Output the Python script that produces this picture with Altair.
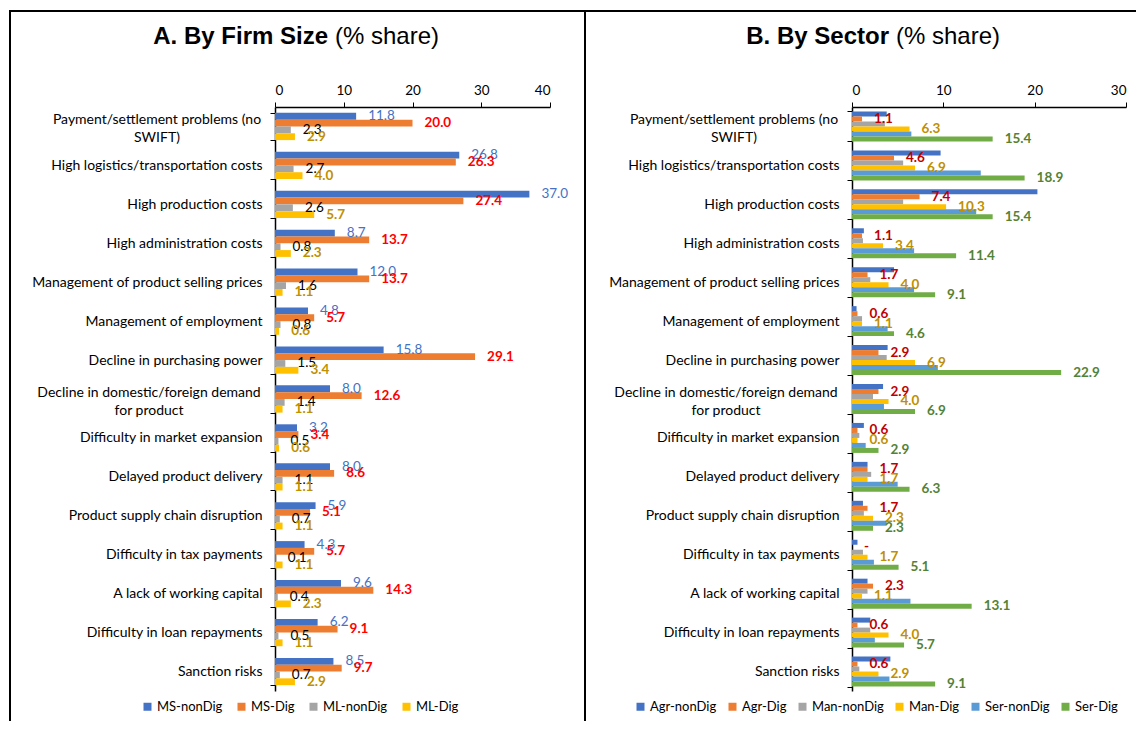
import altair as alt
import pandas as pd

categories = [
    "Payment/settlement problems (no|SWIFT)",
    "High logistics/transportation costs",
    "High production costs",
    "High administration costs",
    "Management of product selling prices",
    "Management of employment",
    "Decline in purchasing power",
    "Decline in domestic/foreign demand|for product",
    "Difficulty in market expansion",
    "Delayed product delivery",
    "Product supply chain disruption",
    "Difficulty in tax payments",
    "A lack of working capital",
    "Difficulty in loan repayments",
    "Sanction risks",
]

size_series = ["MS-nonDig", "MS-Dig", "ML-nonDig", "ML-Dig"]
ms_nondig = [11.8, 26.8, 37.0, 8.7, 12.0, 4.8, 15.8, 8.0, 3.2, 8.0, 5.9, 4.3, 9.6, 6.2, 8.5]
ms_dig = [20.0, 26.3, 27.4, 13.7, 13.7, 5.7, 29.1, 12.6, 3.4, 8.6, 5.1, 5.7, 14.3, 9.1, 9.7]
ml_nondig = [2.3, 2.7, 2.6, 0.8, 1.6, 0.8, 1.5, 1.4, 0.5, 1.1, 0.7, 0.1, 0.4, 0.5, 0.7]
ml_dig = [2.9, 4.0, 5.7, 2.3, 1.1, 0.6, 3.4, 1.1, 0.6, 1.1, 1.1, 1.1, 2.3, 1.1, 2.9]

sector_series = ["Agr-nonDig", "Agr-Dig", "Man-nonDig", "Man-Dig", "Ser-nonDig", "Ser-Dig"]
agr_nondig = [3.8, 9.7, 20.3, 1.3, 4.6, 0.5, 3.9, 3.4, 1.3, 1.7, 1.2, 0.6, 1.7, 2.0, 4.2]
agr_dig = [1.1, 4.6, 7.4, 1.1, 1.7, 0.6, 2.9, 2.9, 0.6, 1.7, 1.7, 0.0, 2.3, 0.6, 0.6]
man_nondig = [3.6, 5.6, 5.6, 1.2, 2.0, 1.1, 3.8, 2.3, 0.8, 2.1, 1.3, 1.2, 1.7, 2.0, 0.8]
man_dig = [6.3, 6.9, 10.3, 3.4, 4.0, 1.1, 6.9, 4.0, 0.6, 1.7, 2.3, 1.7, 1.1, 4.0, 2.9]
ser_nondig = [6.5, 14.1, 13.6, 6.8, 6.8, 3.9, 9.4, 3.5, 1.5, 5.0, 3.8, 2.4, 6.4, 2.5, 4.1]
ser_dig = [15.4, 18.9, 15.4, 11.4, 9.1, 4.6, 22.9, 6.9, 2.9, 6.3, 2.3, 5.1, 13.1, 5.7, 9.1]

size_colors = ["#4472C4", "#ED7D31", "#A5A5A5", "#FFC000"]
sector_colors = ["#4472C4", "#ED7D31", "#A5A5A5", "#FFC000", "#5B9BD5", "#70AD47"]

size_labels = [("MS-nonDig", "#4472C4", "normal"), ("MS-Dig", "#FF0000", "bold"),
               ("ML-nonDig", "#000000", "normal"), ("ML-Dig", "#BF9000", "bold")]
sector_labels = [("Agr-Dig", "#C00000", "bold"), ("Man-Dig", "#BF9000", "bold"),
                 ("Ser-Dig", "#548235", "bold")]

FONT = "Lato, Liberation Sans, Arial"
TFONT = "Liberation Sans, Arial"
W_A, W_B, H = 275, 274, 584
CAT_FS = 14


def build_df(series, lists):
    rows = []
    for s, vals in zip(series, lists):
        for c, v in zip(categories, vals):
            rows.append({"cat": c, "series": s, "value": v,
                         "label": f"{v:.1f}" if v > 0 else "-"})
    return pd.DataFrame(rows)


one = pd.DataFrame({"k": [0]})
wrapped = [c for c in categories if "|" in c]
wrap_x = {wrapped[0]: -118, wrapped[1]: -126}


def panel(df, series, colors, xmax, pad_inner, label_styles, legend_x, col_pad,
          t_bold, t_rest, t_x, rules):
    y_enc = alt.Y(
        "cat:N",
        scale=alt.Scale(domain=categories, paddingInner=pad_inner, paddingOuter=pad_inner / 2),
        axis=alt.Axis(
            title=None, orient="left",
            labelExpr="indexof(datum.label, '|') >= 0 ? '' : datum.label",
            labelFont=FONT, labelFontSize=CAT_FS, labelColor="#000000", labelLimit=400,
            labelPadding=8, tickBand="extent", tickSize=5,
            tickColor="#000000", domainColor="#000000", domainWidth=1.5, grid=False,
        ),
    )
    x_enc = alt.X(
        "value:Q",
        scale=alt.Scale(domain=[0, xmax], nice=False),
        axis=alt.Axis(title=None, orient="top", values=list(range(0, xmax + 1, 10)),
                      grid=False, tickSize=5, tickColor="#000000", domainColor="#000000",
                      domainWidth=1.5, labelFont=FONT, labelFontSize=13.5,
                      labelColor="#000000", labelPadding=5, format="d"),
    )
    yo = alt.YOffset("series:N", scale=alt.Scale(domain=series))
    color = alt.Color(
        "series:N",
        scale=alt.Scale(domain=series, range=colors),
        legend=alt.Legend(title=None, orient="none", legendX=legend_x, legendY=593,
                          direction="horizontal", columns=len(series), symbolType="square",
                          symbolSize=64, symbolStrokeWidth=0, labelFont=FONT,
                          labelFontSize=13, labelColor="#000000", columnPadding=col_pad,
                          labelOffset=3, padding=0),
    )
    bars = alt.Chart(df).mark_bar().encode(x=x_enc, y=y_enc, yOffset=yo, color=color)
    layers = [bars]
    for s, col, w in label_styles:
        layers.append(
            alt.Chart(df).transform_filter(alt.datum.series == s)
            .mark_text(align="left", baseline="middle", dx=12, color=col, fontWeight=w,
                       font=FONT, fontSize=13.5)
            .encode(x=x_enc, y=y_enc, yOffset=yo, text="label:N")
        )
    for c in wrapped:
        layers.append(
            alt.Chart(pd.DataFrame({"cat": [c]}))
            .mark_text(align="center", baseline="middle", lineBreak="|", lineHeight=18,
                       dy=-6, font=FONT, fontSize=CAT_FS, color="#000000")
            .encode(y=y_enc, x=alt.value(wrap_x[c]), text="cat:N")
        )
    layers.append(alt.Chart(one).mark_text(text=t_bold, align="right", baseline="middle",
                                           font=TFONT, fontSize=24, fontWeight="bold")
                  .encode(x=alt.value(t_x), y=alt.value(-70)))
    layers.append(alt.Chart(one).mark_text(text=t_rest, align="left", baseline="middle",
                                           font=TFONT, fontSize=24)
                  .encode(x=alt.value(t_x + 7), y=alt.value(-70)))
    for r in rules:
        layers.append(alt.Chart(one).mark_rule(color="#000000", strokeWidth=2).encode(**r))
    return layers


df_a = build_df(size_series, [ms_nondig, ms_dig, ml_nondig, ml_dig])
df_b = build_df(sector_series, [agr_nondig, agr_dig, man_nondig, man_dig, ser_nondig, ser_dig])

rules_a = [
    dict(x=alt.value(-265), y=alt.value(-96), y2=alt.value(614)),
    dict(x=alt.value(-266), x2=alt.value(W_A), y=alt.value(-96)),
]
rules_b = [
    dict(x=alt.value(-267), y=alt.value(-96), y2=alt.value(614)),
    dict(x=alt.value(-302), x2=alt.value(284), y=alt.value(-96)),
]

A = alt.layer(*panel(df_a, size_series, size_colors, 40, 0.3, size_labels, -134, 12,
                     "A. By Firm Size", "(% share)", 53, rules_a)).properties(width=W_A, height=H)
B = alt.layer(*panel(df_b, sector_series, sector_colors, 30, 0.23, sector_labels, -218, 9,
                     "B. By Sector", "(% share)", 37, rules_b)).properties(width=W_B, height=H)

chart = (
    alt.hconcat(A, B, spacing=302, bounds="flush")
    .resolve_scale(x="independent", y="independent", color="independent", yOffset="independent")
    .properties(padding={"left": 0, "top": 2, "right": 0, "bottom": 0})
    .configure_view(stroke=None)
)

chart.save("out.html", embed_options={"renderer": "svg", "actions": False})
